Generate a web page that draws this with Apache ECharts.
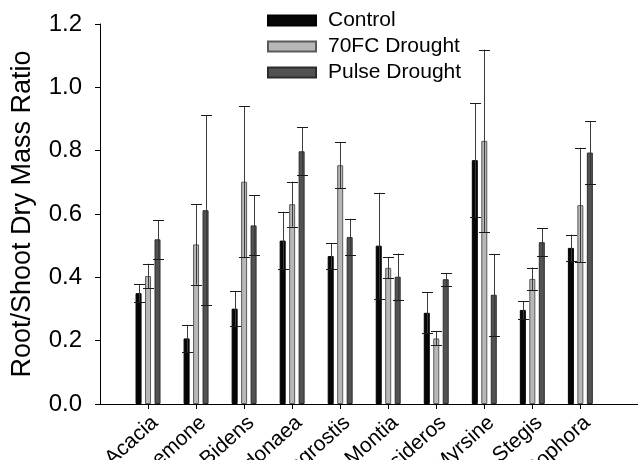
<!DOCTYPE html>
<html>
<head>
<meta charset="utf-8">
<script src="https://cdn.jsdelivr.net/npm/echarts@6/dist/echarts.min.js"></script>
<style>
html,body{margin:0;padding:0;background:#fff;}
#chart{width:638px;height:460px;}
</style>
</head>
<body>
<div id="chart"></div>
<script>
// ---- data ----
var categories = ['Acacia','Argemone','Bidens','Dodonaea','Eragrostis','Montia','Metrosideros','Myrsine','Stegis','Sophora'];
var seriesNames = ['Control','70FC Drought','Pulse Drought'];
var control    = [0.350, 0.207, 0.301, 0.516, 0.467, 0.500, 0.288, 0.770, 0.297, 0.493];
var controlErr = [0.028, 0.043, 0.056, 0.091, 0.040, 0.167, 0.065, 0.179, 0.028, 0.042];
var fc70       = [0.404, 0.504, 0.702, 0.631, 0.754, 0.430, 0.207, 0.831, 0.395, 0.628];
var fc70Err    = [0.039, 0.127, 0.238, 0.071, 0.073, 0.033, 0.022, 0.288, 0.036, 0.181];
var pulse      = [0.520, 0.612, 0.564, 0.798, 0.527, 0.402, 0.394, 0.345, 0.511, 0.794];
var pulseErr   = [0.061, 0.300, 0.095, 0.076, 0.058, 0.073, 0.020, 0.129, 0.044, 0.099];
var yTicks = [0, 0.2, 0.4, 0.6, 0.8, 1.0, 1.2];

// ---- build ----
var FONT = '"Liberation Sans", Arial, sans-serif';
var positions = categories.map(function(c, i){ return i + 1; });
var means = [control, fc70, pulse];
var errs = [controlErr, fc70Err, pulseErr];
var fills = ['#060606', '#b7b7b7', '#525252'];
var borders = ['#000000', '#5a5a5a', '#2c2c2c'];
var pxOffsets = [-9.5, 0, 9.5];
var BAR_W = 6;

var series = [];
for (var s = 0; s < 3; s++) {
  series.push({
    name: seriesNames[s],
    type: 'bar',
    barWidth: BAR_W,
    barGap: '58%',
    itemStyle: {color: fills[s], borderColor: borders[s], borderWidth: 1},
    data: positions.map(function(p, i){ return [p, means[s][i]]; }),
    z: 2
  });
}
for (var s2 = 0; s2 < 3; s2++) {
  (function(k){
    series.push({
      type: 'custom',
      z: 5,
      silent: true,
      data: positions.map(function(p, i){ return [p, means[k][i], errs[k][i]]; }),
      renderItem: function(params, api){
        var x = api.value(0), m = api.value(1), e = api.value(2);
        var top = api.coord([x, m + e]);
        var bot = api.coord([x, m - e]);
        var cx = Math.round(top[0] + pxOffsets[k]) + 0.5;
        var half = 5.5;
        var st = {stroke: '#1a1a1a', lineWidth: 1};
        return {
          type: 'group',
          children: [
            {type:'line', shape:{x1:cx, y1:top[1], x2:cx, y2:bot[1]}, style:{stroke:'#3a3a3a', lineWidth:1}},
            {type:'line', shape:{x1:cx-half, y1:Math.round(top[1])+0.5, x2:cx+half, y2:Math.round(top[1])+0.5}, style:st},
            {type:'line', shape:{x1:cx-half, y1:Math.round(bot[1])+0.5, x2:cx+half, y2:Math.round(bot[1])+0.5}, style:st}
          ]
        };
      }
    });
  })(s2);
}

var chart = echarts.init(document.getElementById('chart'), null, {renderer: 'canvas'});
chart.setOption({
  animation: false,
  backgroundColor: '#ffffff',
  textStyle: {fontFamily: FONT},
  legend: {
    data: seriesNames,
    orient: 'vertical',
    left: 267,
    top: 10,
    padding: 0,
    itemWidth: 48,
    itemHeight: 10,
    itemGap: 5,
    icon: 'rect',
    selectedMode: false,
    textStyle: {fontFamily: FONT, fontSize: 21, color: '#000', padding: [0, 0, 0, 7]}
  },
  grid: {left: 100, right: 0, top: 24, bottom: 56, containLabel: false, outerBoundsMode: 'none'},
  xAxis: {
    type: 'value',
    min: 0,
    max: 11.2,
    splitLine: {show: false},
    axisLine: {show: true, onZero: false, lineStyle: {color: '#000', width: 1}},
    axisTick: {show: true, length: 5, inside: false, customValues: positions, lineStyle: {color: '#000'}},
    axisLabel: {
      customValues: positions,
      rotate: 42,
      align: 'right',
      verticalAlign: 'top',
      margin: 8,
      fontFamily: FONT,
      fontSize: 21,
      color: '#000',
      formatter: function(v){ return categories[Math.round(v) - 1] || ''; }
    }
  },
  yAxis: {
    type: 'value',
    min: 0,
    max: 1.2,
    interval: 0.2,
    name: 'Root/Shoot Dry Mass Ratio',
    nameLocation: 'middle',
    nameRotate: 90,
    nameGap: 64,
    nameTextStyle: {fontFamily: FONT, fontSize: 27, color: '#000'},
    splitLine: {show: false},
    axisLine: {show: true, lineStyle: {color: '#000', width: 1}},
    axisTick: {show: true, length: 5, lineStyle: {color: '#000'}},
    axisLabel: {
      fontFamily: FONT, fontSize: 24, color: '#000', margin: 18,
      customValues: yTicks,
      formatter: function(v){ return v.toFixed(1); }
    }
  },
  series: series
});
</script>
</body>
</html>
